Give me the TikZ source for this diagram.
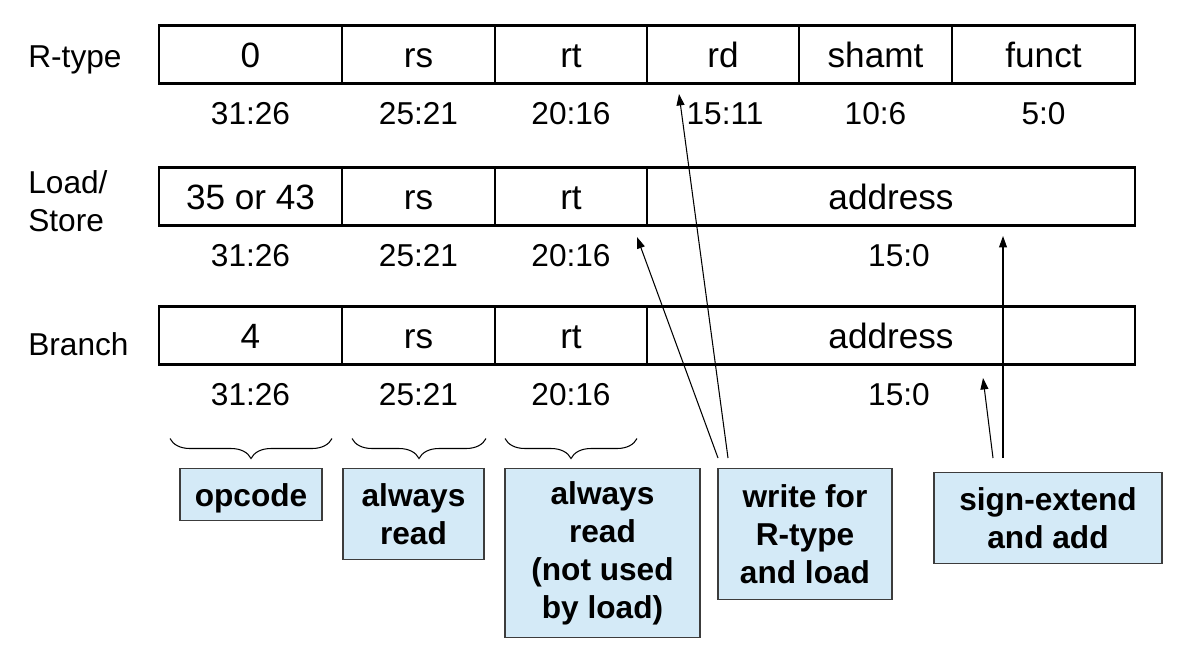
\documentclass[tikz,border=0pt]{standalone}
\usepackage{fontspec}
\setmainfont{Liberation Sans}
\usepackage{tikz}
\usetikzlibrary{
    arrows.meta,
    positioning,
    calc,
    decorations.pathreplacing
}
\definecolor{Cnote}{RGB}{212, 234, 247}
\definecolor{Cedge}{RGB}{60, 60, 60}
\tikzset{
    field/.style={
        rectangle, draw=black, line width=1.4pt, outer sep=0pt,
        minimum height=1.16cm, inner sep=0pt,
        text height=14.4pt, text depth=0pt,
        font=\fontsize{20}{24}\selectfont
    },
    bits/.style={font=\fontsize{18}{22}\selectfont, inner sep=0pt},
    rowlbl/.style={anchor=west, align=left, inner sep=0pt,
        font=\fontsize{18}{21.6}\selectfont},
    note/.style={
        rectangle, draw=Cedge, line width=0.8pt, fill=Cnote, anchor=north,
        align=center, inner sep=2pt,
        font=\bfseries\fontsize{18}{21.6}\selectfont
    },
    grp/.style={decorate, decoration={brace, mirror, amplitude=0.4cm},
        line width=0.6pt},
    parr/.style={-{Triangle[length=6.5pt, width=4.5pt]}, line width=0.6pt},
}
\begin{document}
\begin{tikzpicture}

    \useasboundingbox (0,0) rectangle (23.74,-13.1);

    % ── 行标题 ──────────────────────────────────────────
    \node [rowlbl] (lr) at (0.56,-1.20) {R-type};
    \node [rowlbl] (ll) at (0.56,-4.02) {Load/\\Store};
    \node [rowlbl] (lb) at (0.56,-6.88) {Branch};

    % ── R-type 字段 ─────────────────────────────────────
    \node [field, anchor=west, minimum width=3.66cm] (r0) at (3.18,-1.09) {0};
    \node [field, right=0pt of r0, minimum width=3.06cm] (r1) {rs};
    \node [field, right=0pt of r1, minimum width=3.04cm] (r2) {rt};
    \node [field, right=0pt of r2, minimum width=3.04cm] (r3) {rd};
    \node [field, right=0pt of r3, minimum width=3.06cm] (r4) {shamt};
    \node [field, right=0pt of r4, minimum width=3.66cm] (r5) {funct};

    % ── Load/Store 字段 ─────────────────────────────────
    \node [field, anchor=west, minimum width=3.66cm] (l0) at (3.18,-3.93) {35 or 43};
    \node [field, right=0pt of l0, minimum width=3.06cm] (l1) {rs};
    \node [field, right=0pt of l1, minimum width=3.04cm] (l2) {rt};
    \node [field, right=0pt of l2, minimum width=9.76cm] (l3) {address};

    % ── Branch 字段 ─────────────────────────────────────
    \node [field, anchor=west, minimum width=3.66cm] (b0) at (3.18,-6.71) {4};
    \node [field, right=0pt of b0, minimum width=3.06cm] (b1) {rs};
    \node [field, right=0pt of b1, minimum width=3.04cm] (b2) {rt};
    \node [field, right=0pt of b2, minimum width=9.76cm] (b3) {address};

    % ── 位范围 ───────────────────────────────────────────
    \node [bits] (rb0) at ($(r0.south)+(0,-0.6)$) {31:26};
    \node [bits] (rb1) at ($(r1.south)+(0,-0.6)$) {25:21};
    \node [bits] (rb2) at ($(r2.south)+(0,-0.6)$) {20:16};
    \node [bits] (rb3) at ($(r3.south)+(0.04,-0.6)$) {15:11};
    \node [bits] (rb4) at ($(r4.south)+(0,-0.6)$) {10:6};
    \node [bits] (rb5) at ($(r5.south)+(0,-0.6)$) {5:0};

    \node [bits] (lb0) at ($(l0.south)+(0,-0.6)$) {31:26};
    \node [bits] (lb1) at ($(l1.south)+(0,-0.6)$) {25:21};
    \node [bits] (lb2) at ($(l2.south)+(0,-0.6)$) {20:16};
    \node [bits] (lb3) at ($(l3.south)+(0.16,-0.6)$) {15:0};

    \node [bits] (bb0) at ($(b0.south)+(0,-0.6)$) {31:26};
    \node [bits] (bb1) at ($(b1.south)+(0,-0.6)$) {25:21};
    \node [bits] (bb2) at ($(b2.south)+(0,-0.6)$) {20:16};
    \node [bits] (bb3) at ($(b3.south)+(0.16,-0.6)$) {15:0};

    % ── 大括号 ───────────────────────────────────────────
    \draw [grp] ($(b0.south west)+(0.22,-1.48)$) -- ($(b0.south east)+(-0.2,-1.48)$);
    \draw [grp] ($(b1.south west)+(0.2,-1.48)$) -- ($(b1.south east)+(-0.18,-1.48)$);
    \draw [grp] ($(b2.south west)+(0.2,-1.48)$) -- ($(b2.south east)+(-0.2,-1.48)$);

    % ── 说明框 ───────────────────────────────────────────
    \node [note, minimum width=2.84cm, minimum height=1.04cm, text depth=0pt]
        (opc) at (5.02,-9.36) {opcode};
    \node [note, minimum width=2.82cm, minimum height=1.82cm]
        (rdrs) at (8.27,-9.36) {always\\read};
    \node [note, minimum width=3.90cm, minimum height=3.38cm]
        (rdrt) at (12.05,-9.36) {always\\read\\(not used\\by load)};
    \node [note, minimum width=3.48cm, minimum height=2.62cm]
        (wrt) at (16.10,-9.36) {write for\\R-type\\and load};
    \node [note, minimum width=4.56cm, minimum height=1.82cm]
        (sext) at (20.96,-9.44) {sign-extend\\and add};

    % ── 箭头 ─────────────────────────────────────────────
    \coordinate (wrtA) at (14.56,-9.16);
    \coordinate (wrtB) at (14.36,-9.16);
    \coordinate (sextA) at (20.06,-9.16);
    \coordinate (sextB) at (19.86,-9.16);
    \coordinate (rdTip) at (13.58,-1.88);
    \coordinate (rtTip) at (12.74,-4.74);
    \coordinate (ldTip) at (20.06,-4.72);
    \coordinate (brTip) at (19.66,-7.56);

    \draw [parr] (wrtA) -- (rdTip);
    \draw [parr] (wrtB) -- (rtTip);
    \draw [parr] (sextA) -- (ldTip);
    \draw [parr] (sextB) -- (brTip);

\end{tikzpicture}
\end{document}
